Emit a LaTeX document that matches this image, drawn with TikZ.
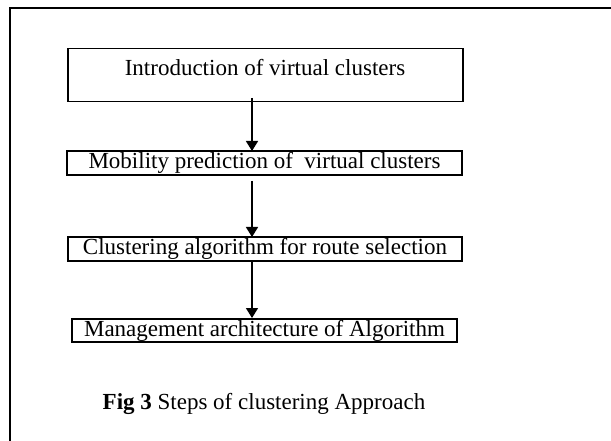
\documentclass[tikz,border=0pt]{standalone}
\usepackage{fontspec}
\setmainfont{Liberation Serif}
\usetikzlibrary{arrows.meta}
\begin{document}
\begin{tikzpicture}[x=1pt,y=-1pt,
  txt/.style={font=\fontsize{23}{26}\selectfont},
  stepbox/.style={draw,line width=1.5pt,inner sep=0pt,txt},
  conn/.style={line width=1.5pt,-{Triangle[length=10pt,width=12pt]}}]
\useasboundingbox (0,0) rectangle (611,441);
\draw[line width=2pt] (10,441) -- (10,8) -- (611,8);
\node[stepbox,minimum width=395pt,minimum height=53pt,anchor=north west] (b1) at (67,48) {};
\node[txt] (t1) at (265,68) {Introduction of virtual clusters};
\node[stepbox,minimum width=395pt,minimum height=24pt] (b2) at (264.5,163) {Mobility prediction of\ \ virtual clusters};
\node[stepbox,minimum width=394pt,minimum height=24pt] (b3) at (265,249) {Clustering algorithm for route selection};
\node[stepbox,minimum width=385pt,minimum height=23pt] (b4) at (264.5,330.5) {Management architecture of Algorithm};
\node[txt] (cap) at (264,404) {\textbf{Fig 3} Steps of clustering Approach};
\coordinate (s1) at (252,98);
\coordinate (e1) at (252,151);
\coordinate (s2) at (252,181);
\coordinate (e2) at (252,237);
\coordinate (s3) at (252,262);
\coordinate (e3) at (252,318);
\draw[conn] (s1) -- (e1);
\draw[conn] (s2) -- (e2);
\draw[conn] (s3) -- (e3);
\end{tikzpicture}
\end{document}
